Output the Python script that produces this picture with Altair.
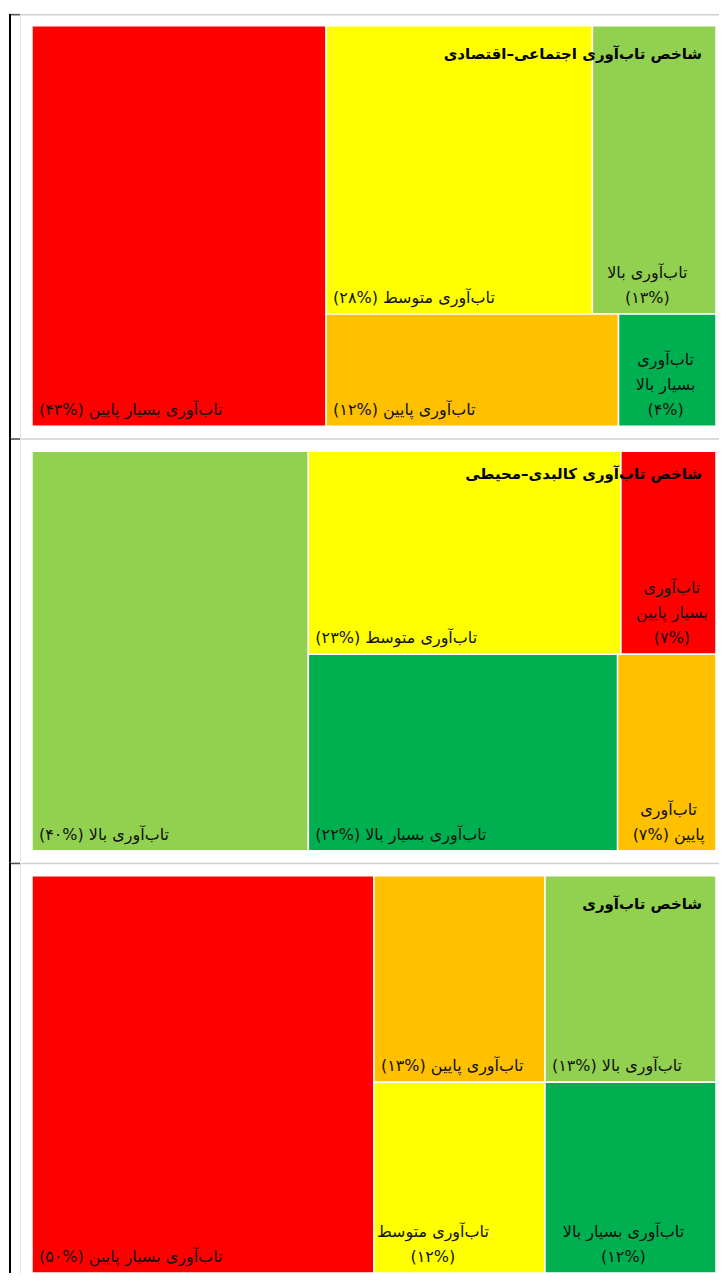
import altair as alt
import pandas as pd

# ---------------- data ----------------
levels = ["تاب‌آوری بسیار پایین", "تاب‌آوری پایین", "تاب‌آوری متوسط",
          "تاب‌آوری بالا", "تاب‌آوری بسیار بالا"]
level_colors = ["#FF0000", "#FFC000", "#FFFF00", "#92D050", "#00B050"]

titles = ["شاخص تاب‌آوری اجتماعی–اقتصادی",
          "شاخص تاب‌آوری کالبدی–محیطی",
          "شاخص تاب‌آوری"]

# percentage of each level (same order as `levels`)
values_1 = [43, 12, 28, 13, 4]
values_2 = [7, 7, 23, 40, 22]
values_3 = [50, 13, 12, 13, 12]

# tile order: left column, top-left, top-right, bottom-left, bottom-right
order_1 = [0, 2, 3, 1, 4]
order_2 = [3, 2, 0, 4, 1]
order_3 = [0, 1, 3, 2, 4]

# wrapped labels ("{p}" = percentage)
wrap_1 = {3: ["تاب‌آوری بالا", "{p}"], 4: ["تاب‌آوری", "بسیار بالا", "{p}"]}
wrap_2 = {0: ["تاب‌آوری", "بسیار پایین", "{p}"], 1: ["تاب‌آوری", "پایین {p}"]}
wrap_3 = {2: ["تاب‌آوری متوسط", "{p}"], 4: ["تاب‌آوری بسیار بالا", "{p}"]}

# ---------------- helpers ----------------
FA = str.maketrans("0123456789", "۰۱۲۳۴۵۶۷۸۹")
RLI, LRI, PDI = "\u2067", "\u2066", "\u2069"
FONT = "DejaVu Sans"
FS = 16
TFS = 15
LH = 25
PANEL_W = 712
X_RANGE = [24, 709]


def layout(vals, order):
    v = [vals[i] for i in order]
    tot = sum(v)
    c = v[0] / tot
    rest = tot - v[0]
    top = (v[1] + v[2]) / rest
    xa = c + (1 - c) * v[1] / (v[1] + v[2])
    xb = c + (1 - c) * v[3] / (v[3] + v[4])
    return [
        (order[0], 0.0, c, 0.0, 1.0),
        (order[1], c, xa, 0.0, top),
        (order[2], xa, 1.0, 0.0, top),
        (order[3], c, xb, top, 1.0),
        (order[4], xb, 1.0, top, 1.0),
    ]


def est_width(s):
    return len(s.replace("\u200c", "")) * FS * 0.49


def panel(vals, order, wraps, title, h, y_range, title_y):
    rows = []
    px = X_RANGE[1] - X_RANGE[0]
    py = y_range[1] - y_range[0]
    for idx, x0, x1, y0, y1 in layout(vals, order):
        pct = "(" + LRI + str(vals[idx]).translate(FA) + "%" + PDI + ")"
        raw = wraps.get(idx, [levels[idx] + " {p}"])
        plain = [ln.replace("{p}", "(00%)") for ln in raw]
        lines = [RLI + ln.replace("{p}", pct) + PDI for ln in raw]
        wmax = max(est_width(s) for s in plain)
        rows.append({
            "level": levels[idx], "x0": x0, "x1": x1, "y0": y0, "y1": y1,
            "label": "\n".join(lines), "multi": len(lines) > 1,
            "xc": x0 + (8 + wmax / 2) / px,
            "ly": y1 - (len(lines) - 1) * LH / py,
        })
    df = pd.DataFrame(rows)
    xs = alt.Scale(domain=[0, 1], range=X_RANGE, nice=False, zero=False)
    ys = alt.Scale(domain=[0, 1], range=y_range, nice=False, zero=False)
    base = alt.Chart(df)

    rects = base.mark_rect(stroke="white", strokeWidth=1.5).encode(
        x=alt.X("x0:Q", scale=xs, axis=None), x2="x1:Q",
        y=alt.Y("y0:Q", scale=ys, axis=None), y2="y1:Q",
        color=alt.Color("level:N", scale=alt.Scale(domain=levels, range=level_colors), legend=None),
    )
    single = base.transform_filter("!datum.multi").mark_text(
        align="left", baseline="bottom", dx=7, dy=-8, font=FONT, fontSize=FS,
        color="#111111", lineBreak="\n", lineHeight=LH,
    ).encode(
        x=alt.X("x0:Q", scale=xs, axis=None),
        y=alt.Y("ly:Q", scale=ys, axis=None),
        text="label:N",
    )
    multi = base.transform_filter("datum.multi").mark_text(
        align="center", baseline="bottom", dy=-8, font=FONT, fontSize=FS,
        color="#111111", lineBreak="\n", lineHeight=LH,
    ).encode(
        x=alt.X("xc:Q", scale=xs, axis=None),
        y=alt.Y("ly:Q", scale=ys, axis=None),
        text="label:N",
    )
    one = alt.Data(values=[{"a": 1}])
    deco = [
        alt.Chart(one).mark_rule(color="#d0d0d0", strokeWidth=1.5).encode(
            x=alt.value(1), x2=alt.value(PANEL_W), y=alt.value(0.75)),
        alt.Chart(one).mark_rule(color="#e4e4e4", strokeWidth=1).encode(
            x=alt.value(12.5), y=alt.value(0.5), y2=alt.value(h)),
        alt.Chart(one).mark_rule(color="#555555", strokeWidth=1.5).encode(
            x=alt.value(1), x2=alt.value(12), y=alt.value(0.75)),
        alt.Chart(one).mark_rule(color="#000000", strokeWidth=2).encode(
            x=alt.value(2), y=alt.value(0), y2=alt.value(h)),
    ]
    ttl = alt.Chart(one).mark_text(
        align="right", baseline="middle", font=FONT, fontSize=TFS,
        fontWeight="bold", color="#000000",
    ).encode(x=alt.value(695), y=alt.value(title_y),
             text=alt.value(RLI + title + PDI))
    return alt.layer(*deco, rects, single, multi, ttl).properties(width=PANEL_W, height=h)


p1 = panel(values_1, order_1, wrap_1, titles[0], 425, [12, 413], 40)
p2 = panel(values_2, order_2, wrap_2, titles[1], 425, [13, 413], 36)
p3 = panel(values_3, order_3, wrap_3, titles[2], 411, [13, 411], 41)

chart = alt.vconcat(p1, p2, p3, spacing=0, bounds="flush").properties(
    padding={"top": 4, "left": 0, "right": 0, "bottom": 0},
    background="white",
).configure_view(strokeWidth=0)

chart.save("out.html", embed_options={"renderer": "svg", "actions": False})
